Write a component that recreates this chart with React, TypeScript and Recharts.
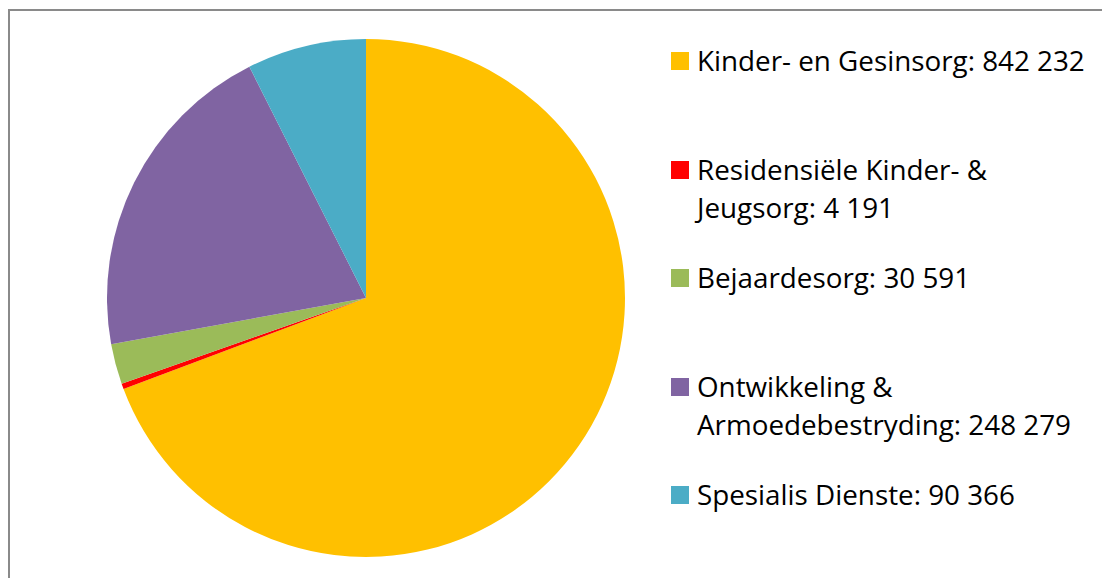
import React from 'react';
import { PieChart, Pie, Cell } from 'recharts';

const categories = [
  'Kinder- en Gesinsorg',
  'Residensiële Kinder- & Jeugsorg',
  'Bejaardesorg',
  'Ontwikkeling & Armoedebestryding',
  'Spesialis Dienste',
];
const values = [842232, 4191, 30591, 248279, 90366];
const colors = ['#FFC000', '#FF0000', '#9BBB59', '#8064A2', '#4BACC6'];

const fmt = (v: number) => String(v).replace(/\B(?=(\d{3})+(?!\d))/g, '\u00A0');

const data = categories.map((name, i) => ({ name, value: values[i] }));

const LegendBlock = () => (
  <div style={{ position: 'absolute', left: 671, top: 41, fontFamily: '"Open Sans", sans-serif', fontSize: 27.8, color: '#000' }}>
    {data.map((d, i) => (
      <div key={d.name} style={{ display: 'flex', alignItems: 'flex-start', height: 108.5 }}>
        <div style={{ width: 18, height: 18, background: colors[i], marginTop: 11, marginRight: 8, flexShrink: 0 }} />
        <div style={{ width: 402, lineHeight: '38px' }}>{`${d.name}: ${fmt(d.value)}`}</div>
      </div>
    ))}
  </div>
);

export default function App() {
  return (
    <div style={{ position: 'fixed', top: 0, left: 0, width: 1102, height: 578, overflow: 'hidden', background: '#fff' }}>
      <div style={{ position: 'absolute', left: 8, top: 9, width: 1200, height: 700, borderLeft: '2px solid #8a8a8a', borderTop: '2px solid #8a8a8a' }} />
      <div style={{ position: 'absolute', left: 0, top: 0 }}>
        <PieChart width={1102} height={578} margin={{ top: 0, right: 0, bottom: 0, left: 0 }}>
          <Pie
            data={data}
            dataKey="value"
            nameKey="name"
            cx={366}
            cy={298}
            outerRadius={259}
            startAngle={90}
            endAngle={-270}
            stroke="none"
            isAnimationActive={false}
          >
            {data.map((d, i) => (
              <Cell key={d.name} fill={colors[i]} />
            ))}
          </Pie>
        </PieChart>
      </div>
      <LegendBlock />
    </div>
  );
}
